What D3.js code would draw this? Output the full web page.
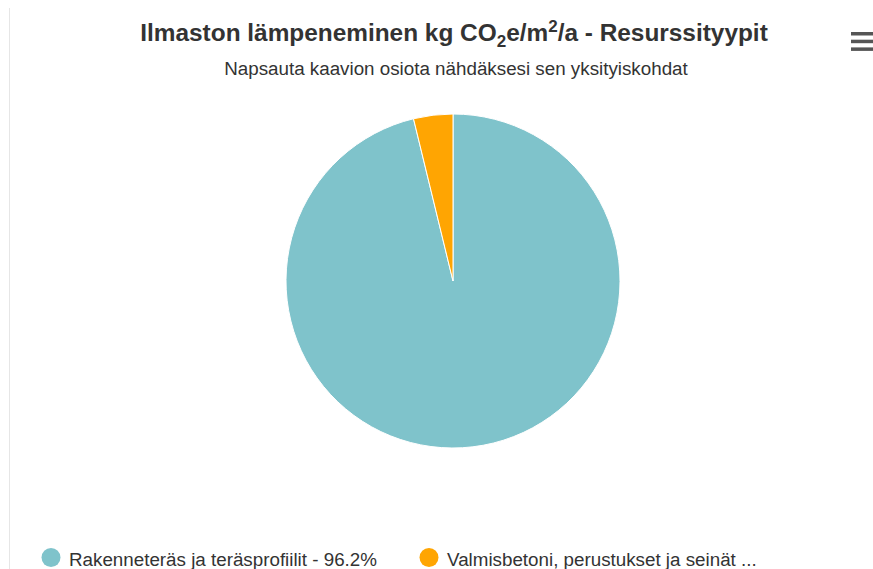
<!DOCTYPE html>
<html>
<head>
<meta charset="utf-8">
<script src="https://cdn.jsdelivr.net/npm/d3@7"></script>
<style>
  body { margin: 0; background: #fff; }
  svg { display: block; font-family: "Liberation Sans", Arial, sans-serif; }
</style>
</head>
<body>
<script>
// chart data
const categories = ['Rakenneteräs ja teräsprofiilit', 'Valmisbetoni, perustukset ja seinät'];
const shares = [96.2, 3.8];
const legendLabels = ['Rakenneteräs ja teräsprofiilit - 96.2%', 'Valmisbetoni, perustukset ja seinät ...'];
const colors = ['#7fc3cb', '#ffa502'];

const width = 873, height = 569;
const svg = d3.select(document.body).append('svg')
  .attr('width', width)
  .attr('height', height);

// left border line of the container
svg.append('line')
  .attr('x1', 9.5).attr('x2', 9.5)
  .attr('y1', 8).attr('y2', height)
  .attr('stroke', '#e6e6e6');

// title
const title = svg.append('text')
  .attr('x', 454).attr('y', 41)
  .attr('text-anchor', 'middle')
  .attr('font-size', 24.4).attr('font-weight', 'bold')
  .attr('fill', '#333');
title.append('tspan').text('Ilmaston lämpeneminen kg CO');
title.append('tspan').attr('font-size', 17).attr('dy', 6).text('2');
title.append('tspan').attr('dy', -6).text('e/m');
title.append('tspan').attr('font-size', 17).attr('dy', -9).text('2');
title.append('tspan').attr('dy', 9).text('/a - Resurssityypit');

svg.append('text')
  .attr('x', 456).attr('y', 75)
  .attr('text-anchor', 'middle')
  .attr('font-size', 18.8)
  .attr('fill', '#333')
  .text('Napsauta kaavion osiota nähdäksesi sen yksityiskohdat');

// menu icon
svg.append('g').selectAll('rect')
  .data([0, 1, 2])
  .enter().append('rect')
  .attr('x', 851).attr('y', i => 32 + i * 7.7)
  .attr('width', 26).attr('height', 3.5)
  .attr('fill', '#555');

// pie
const pie = d3.pie().sort(null).value(d => d);
const arc = d3.arc().innerRadius(0).outerRadius(167);
const g = svg.append('g').attr('transform', 'translate(453,281)');
g.selectAll('path')
  .data(pie(shares))
  .enter().append('path')
  .attr('d', arc)
  .attr('fill', (d, i) => colors[i])
  .attr('stroke', '#fff')
  .attr('stroke-width', 1)
  .attr('stroke-linejoin', 'round');

// legend
const legendX = [51, 429];
const leg = svg.append('g').selectAll('g')
  .data(legendLabels)
  .enter().append('g')
  .attr('transform', (d, i) => `translate(${legendX[i]},557.5)`);
leg.append('circle')
  .attr('r', 9.5)
  .attr('fill', (d, i) => colors[i]);
leg.append('text')
  .attr('x', 18).attr('y', 8.5)
  .attr('font-size', 18.8)
  .attr('fill', '#333')
  .text(d => d);
</script>
</body>
</html>
